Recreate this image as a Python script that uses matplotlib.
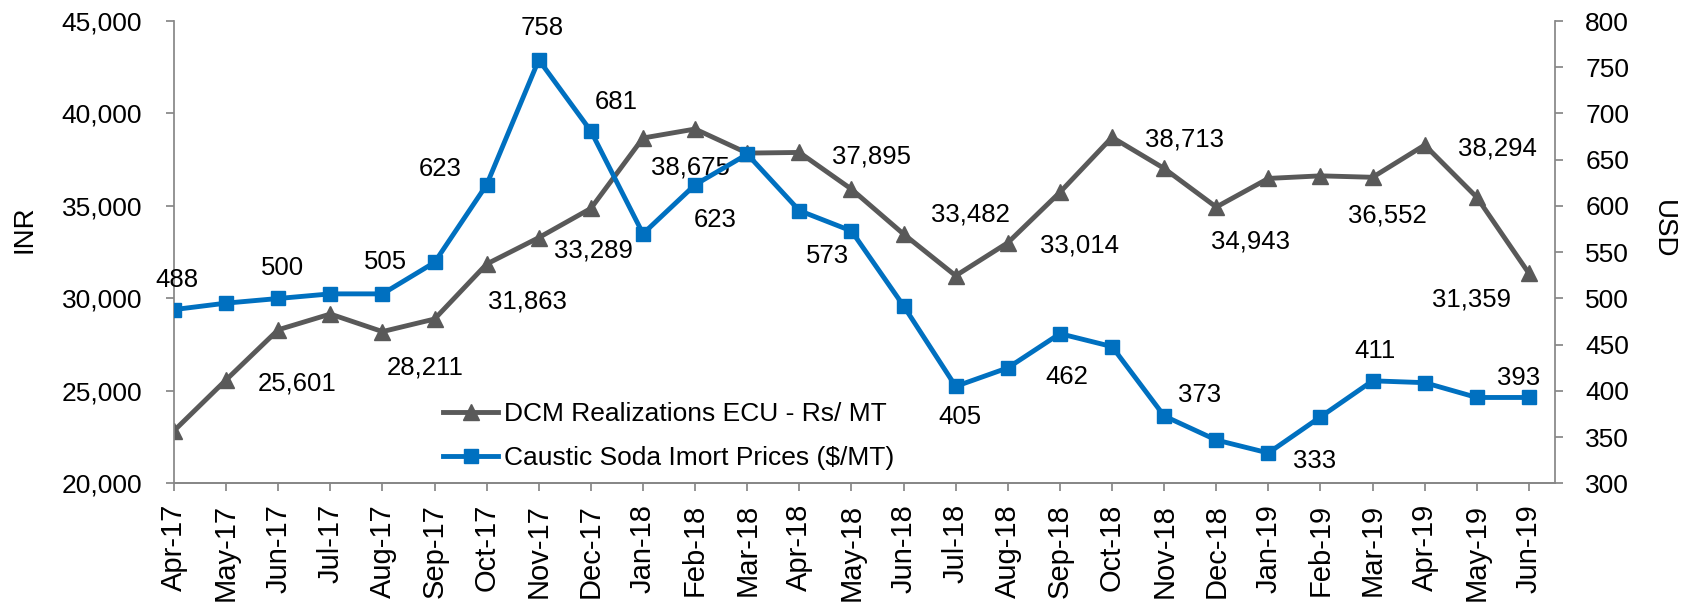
import matplotlib
matplotlib.use("Agg")
import matplotlib.pyplot as plt
from matplotlib.ticker import FuncFormatter

plt.rcParams['font.family'] = ['Liberation Sans', 'DejaVu Sans']

# Data
months = ['Apr-17', 'May-17', 'Jun-17', 'Jul-17', 'Aug-17', 'Sep-17', 'Oct-17',
          'Nov-17', 'Dec-17', 'Jan-18', 'Feb-18', 'Mar-18', 'Apr-18', 'May-18',
          'Jun-18', 'Jul-18', 'Aug-18', 'Sep-18', 'Oct-18', 'Nov-18', 'Dec-18',
          'Jan-19', 'Feb-19', 'Mar-19', 'Apr-19', 'May-19', 'Jun-19']

dcm_inr = [22850, 25601, 28310, 29160, 28211, 28890, 31863, 33289, 34870,
           38675, 39160, 37860, 37895, 35910, 33482, 31230, 33014, 35740,
           38713, 37030, 34943, 36490, 36630, 36552, 38294, 35470, 31359]

soda_usd = [488, 495, 500, 505, 505, 539, 623, 758, 681, 570, 623, 656, 595,
            573, 492, 405, 425, 462, 448, 373, 347, 333, 372, 411, 409, 393, 393]

# which points carry a data label, and where the label sits (pixels from point)
dcm_labelled = [1, 4, 6, 7, 9, 12, 14, 16, 18, 20, 23, 24, 26]
dcm_offsets = [(71, -1), (43, -33), (41, -35), (55, -10), (47, -27), (72, -2),
               (67, 22), (72, 0), (72, 0), (34, -32), (15, -36), (73, -1), (-57, -24)]
soda_labelled = [0, 2, 4, 6, 7, 8, 10, 13, 15, 17, 19, 21, 23, 26]
soda_offsets = [(3, 32), (4, 33), (3, 34), (-46, 18), (3, 34), (25, 32), (20, -33),
                (-24, -23), (4, -28), (7, -41), (35, 23), (46, -6), (2, 32), (-10, 22)]

gray = '#595959'
blue = '#0070C0'
axis_col = '#868686'
fs_lab = 18.5   # data labels
fs_tick = 19    # y tick labels, legend
fs_x = 21       # month labels

fig = plt.figure(figsize=(16.85, 6.11), dpi=100)
ax = fig.add_axes([0.10326, 0.20868, 0.81958, 0.75695])
ax2 = ax.twinx()

x = list(range(len(months)))
l1, = ax.plot(x, dcm_inr, color=gray, lw=3.5, marker='^', ms=12,
              label='DCM Realizations ECU - Rs/ MT')
l2, = ax2.plot(x, soda_usd, color=blue, lw=3.5, marker='s', ms=10,
               label='Caustic Soda Imort Prices ($/MT)')

for i, (dx, dy) in zip(dcm_labelled, dcm_offsets):
    ax.annotate(f'{dcm_inr[i]:,}', (x[i], dcm_inr[i]), xytext=(dx, dy),
                textcoords='offset pixels', ha='center', va='center_baseline',
                fontsize=fs_lab)
for i, (dx, dy) in zip(soda_labelled, soda_offsets):
    ax2.annotate(f'{soda_usd[i]}', (x[i], soda_usd[i]), xytext=(dx, dy),
                 textcoords='offset pixels', ha='center', va='center_baseline',
                 fontsize=fs_lab)

ax.set_xlim(0, 26.5)
ax.set_ylim(20000, 45000)
ax2.set_ylim(300, 800)
ax.set_yticks(range(20000, 45001, 5000))
ax2.set_yticks(range(300, 801, 50))
ax.yaxis.set_major_formatter(FuncFormatter(lambda v, p: f'{int(v):,}'))
ax.set_xticks(x)
ax.set_xticklabels(months, rotation=90)

for a in (ax, ax2):
    a.spines['top'].set_visible(False)
    for s in a.spines.values():
        s.set_color(axis_col)
        s.set_linewidth(1.25)
ax.spines['right'].set_visible(False)
ax2.spines['left'].set_visible(False)

ax.tick_params(axis='y', length=5.8, width=1.25, color=axis_col, labelsize=fs_tick, pad=17)
ax.tick_params(axis='x', length=5.8, width=1.25, color=axis_col, labelsize=fs_x, pad=9)
ax2.tick_params(axis='y', length=5.8, width=1.25, color=axis_col, labelsize=fs_tick, pad=16)

ax.set_ylabel('INR', fontsize=20, va='center')
ax.yaxis.set_label_coords(-0.1086, 0.55)
ax2.set_ylabel('USD', fontsize=20, rotation=270, va='center')
ax2.yaxis.set_label_coords(1.078, 0.55)

fig.legend(handles=[l1, l2], loc='center left', bbox_to_anchor=(0.2629, 0.2867),
           frameon=False, fontsize=fs_tick, borderpad=0, borderaxespad=0,
           handlelength=2.1, handletextpad=0.2, labelspacing=0.76)

fig.savefig('out.png', dpi=100)
